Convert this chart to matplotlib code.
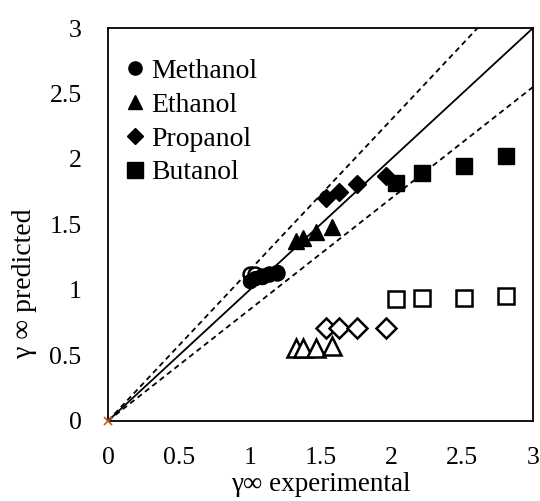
import numpy as np
import matplotlib
matplotlib.use("Agg")
import matplotlib.pyplot as plt

plt.rcParams['font.family'] = ['Liberation Serif', 'DejaVu Serif']

# filled = predicted (model 1), open = predicted (model 2)
meth_x = [1.00, 1.04, 1.09, 1.14, 1.19]
meth_y = [1.07, 1.09, 1.10, 1.12, 1.14]
meth_y2 = [1.12, 1.12, 1.11, 1.12, 1.13]

eth_x = [1.33, 1.38, 1.47, 1.58]
eth_y = [1.37, 1.40, 1.44, 1.48]
eth_y2 = [0.56, 0.56, 0.56, 0.57]

prop_x = [1.54, 1.63, 1.76, 1.96]
prop_y = [1.70, 1.75, 1.81, 1.87]
prop_y2 = [0.71, 0.71, 0.71, 0.71]

but_x = [2.03, 2.22, 2.51, 2.81]
but_y = [1.82, 1.89, 1.95, 2.02]
but_y2 = [0.93, 0.94, 0.94, 0.95]

line_x = [0, 3]
band = [1.15, 0.85]

fig = plt.figure(figsize=(5.4, 5.01), dpi=100)
ax = fig.add_axes([0.2, 0.16, 0.787, 0.784])

ax.plot(line_x, line_x, color='black', lw=1.3, zorder=1)
for f in band:
    ax.plot(line_x, [v * f for v in line_x], color='black', lw=1.3,
            dashes=(3, 2.2), zorder=1)

ax.plot(meth_x, meth_y, 'o', color='black', ms=10, ls='none', label='Methanol')
ax.plot(eth_x, eth_y, '^', color='black', ms=11, ls='none', label='Ethanol')
ax.plot(prop_x, prop_y, 'D', color='black', ms=9, ls='none', label='Propanol')
ax.plot(but_x, but_y, 's', color='black', ms=12, ls='none', label='Butanol')

kw = dict(mfc='white', mec='black', mew=1.8, ls='none')
ax.plot(meth_x, meth_y2, 'o', ms=10, **kw)
ax.plot(eth_x, eth_y2, '^', ms=13, **kw)
ax.plot(prop_x, prop_y2, 'D', ms=10, **kw)
ax.plot(but_x, but_y2, 's', ms=12, **kw)
# redraw filled methanol on top
ax.plot(meth_x, meth_y, 'o', color='black', ms=10, ls='none')

ax.plot([0], [0], 'x', color='#C55A11', ms=6, mew=1.2, clip_on=False, zorder=5)

ax.set_xlim(0, 3)
ax.set_ylim(0, 3)
ax.set_xticks(np.arange(0, 3.01, 0.5))
ax.set_yticks(np.arange(0, 3.01, 0.5))
ax.set_xticklabels(['0', '0.5', '1', '1.5', '2', '2.5', '3'])
ax.set_yticklabels(['0', '0.5', '1', '1.5', '2', '2.5', '3'])
ax.tick_params(length=0, labelsize=18.5, pad=19)
for s in ax.spines.values():
    s.set_linewidth(1.3)

ax.set_xlabel('γ∞ experimental', fontsize=19.5, va='center')
ax.xaxis.set_label_coords(0.5, -0.163)
ax.set_ylabel('γ ∞ predicted', fontsize=20, va='center')
ax.yaxis.set_label_coords(-0.196, 0.35)

leg = ax.legend(loc='upper left', bbox_to_anchor=(-0.048, 1), frameon=False,
                fontsize=20, handletextpad=0.0, labelspacing=0.3,
                borderaxespad=0.7, handlelength=1.2, markerscale=0.95)

fig.savefig('out.png', dpi=100)
